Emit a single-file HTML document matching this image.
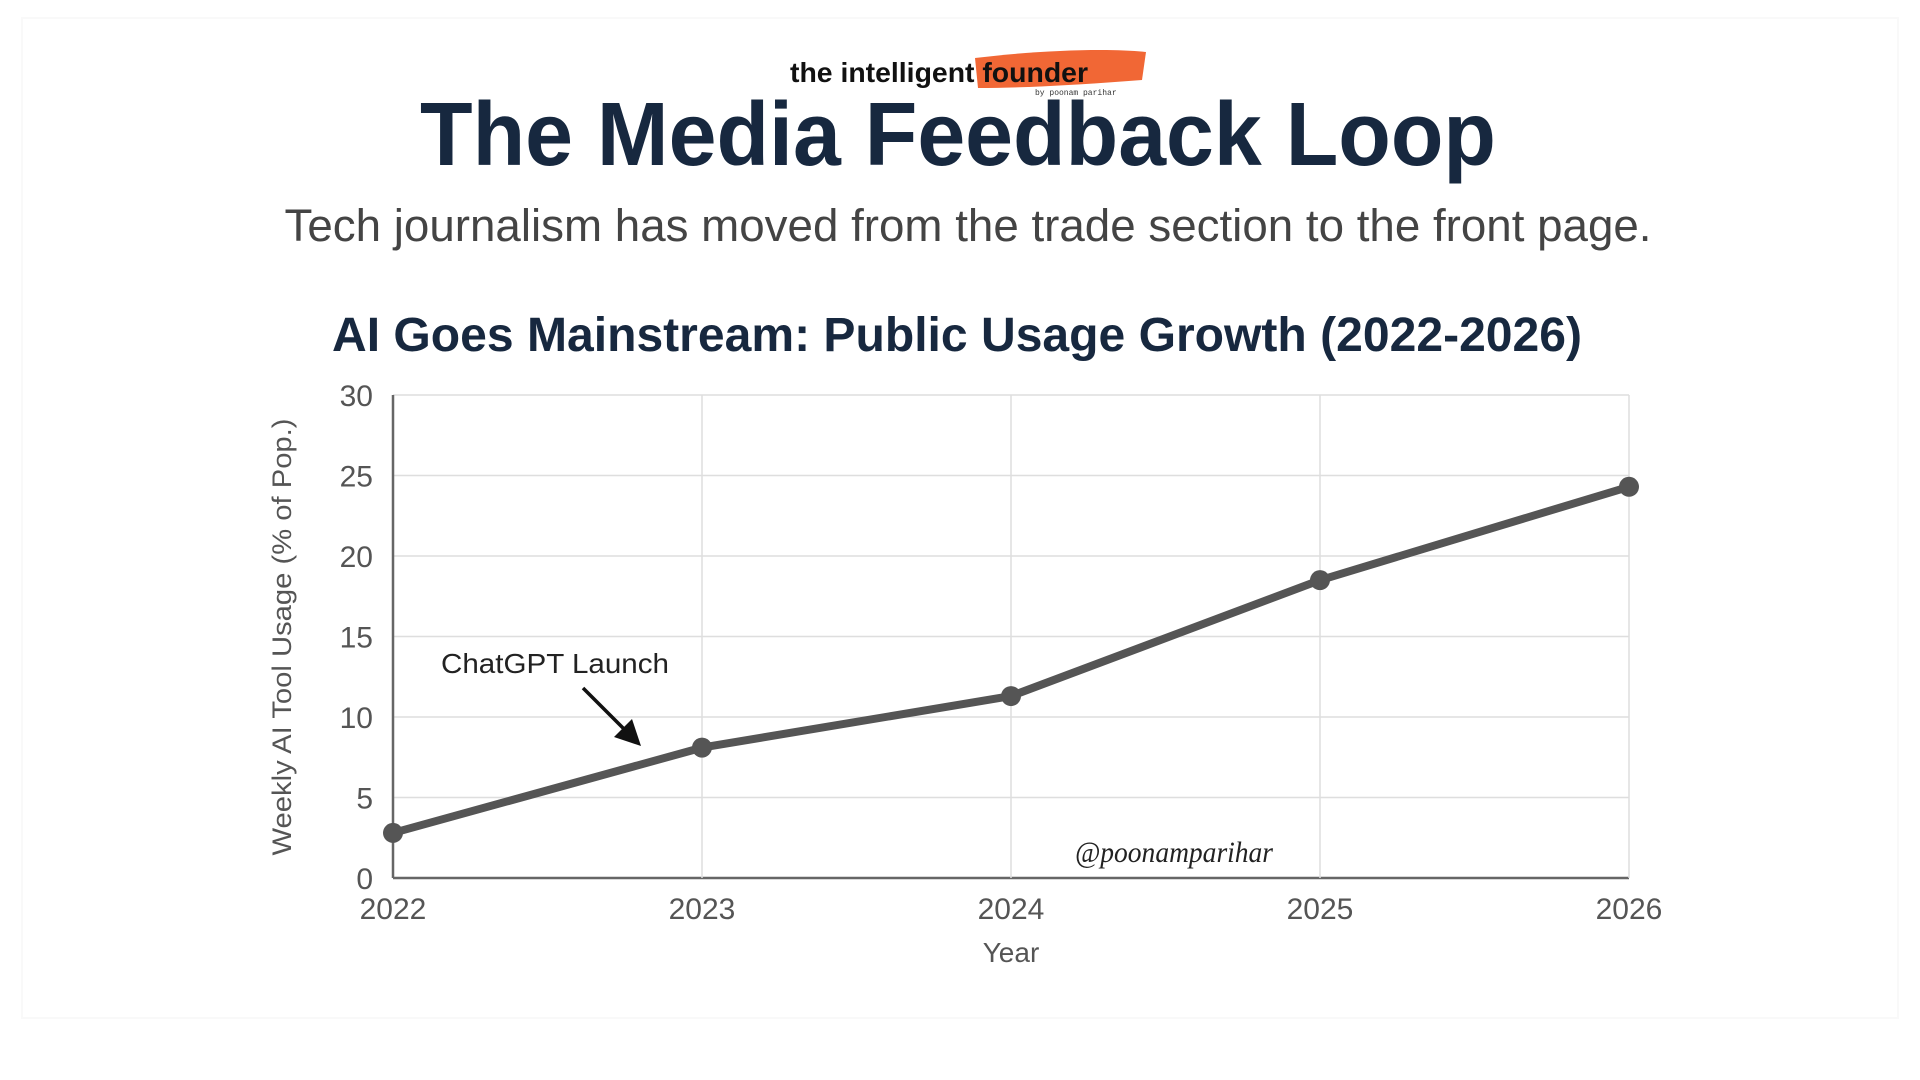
<!DOCTYPE html>
<html><head><meta charset="utf-8"><style>
html,body{margin:0;padding:0;background:#fff;}
svg{display:block;}
</style></head><body>
<svg width="1920" height="1080" viewBox="0 0 1920 1080" xmlns="http://www.w3.org/2000/svg">
<rect x="0" y="0" width="1920" height="1080" fill="#fff"/>
<rect x="22" y="18" width="1876" height="1000" fill="none" stroke="#f9f9f9" stroke-width="2"/>
<g>
<path d="M975,58 C1040,50 1110,48 1146,52 L1142,80 C1090,84 1030,88 978,88 Z" fill="#f0571f" opacity="0.9"/>
<text x="790" y="82" font-family="'Liberation Sans',sans-serif" font-weight="bold" font-size="28" fill="#111" textLength="298" lengthAdjust="spacingAndGlyphs">the intelligent founder</text>
<text x="1035" y="95" font-family="'Liberation Mono',monospace" font-size="8" fill="#333">by poonam parihar</text>
</g>
<text x="958" y="165" text-anchor="middle" font-family="'Liberation Sans',sans-serif" font-weight="bold" font-size="90" fill="#17283f" textLength="1076" lengthAdjust="spacingAndGlyphs">The Media Feedback Loop</text>
<text x="968" y="241" text-anchor="middle" font-family="'Liberation Sans',sans-serif" font-size="45" fill="#444" textLength="1367" lengthAdjust="spacingAndGlyphs">Tech journalism has moved from the trade section to the front page.</text>
<text x="957" y="351" text-anchor="middle" font-family="'Liberation Sans',sans-serif" font-weight="bold" font-size="48" fill="#17283f" textLength="1250" lengthAdjust="spacingAndGlyphs">AI Goes Mainstream: Public Usage Growth (2022-2026)</text>
<g id="chart"></g>
<text x="1174" y="862" text-anchor="middle" font-family="'Liberation Serif',serif" font-style="italic" font-size="30" fill="#222" textLength="198" lengthAdjust="spacingAndGlyphs">@poonamparihar</text>
</svg>
<script>
const categories = [2022, 2023, 2024, 2025, 2026];
const usageValues = [2.8, 8.1, 11.3, 18.5, 24.3];
const yTicks = [0, 5, 10, 15, 20, 25, 30];
const xTickLabels = ["2022", "2023", "2024", "2025", "2026"];

const NS = "http://www.w3.org/2000/svg";
const g = document.getElementById("chart");
const L = 393, R = 1629, T = 395, B = 878;
const xScale = i => L + (R - L) * i / (categories.length - 1);
const yScale = v => B - (B - T) * v / 30;
function mk(tag, attrs, parent) {
  const e = document.createElementNS(NS, tag);
  for (const k in attrs) e.setAttribute(k, attrs[k]);
  (parent || g).appendChild(e);
  return e;
}
yTicks.forEach(t => {
  const y = yScale(t);
  const ln = mk("line", {x1: L, x2: R, y1: y, y2: y, stroke: t === 0 ? "#666" : "#dedede", "stroke-width": t === 0 ? 2.5 : 1.5});
  
  
  const tx = mk("text", {x: L - 20, y: y + 11, "text-anchor": "end", "font-family": "'Liberation Sans',sans-serif", "font-size": 30, fill: "#555"});
  tx.textContent = t;
  
  
});
categories.forEach((c, i) => {
  const x = xScale(i);
  const ln = mk("line", {x1: x, x2: x, y1: T, y2: B, stroke: i === 0 ? "#666" : "#dedede", "stroke-width": i === 0 ? 2.5 : 1.5});
  
  
  const tx = mk("text", {x: x, y: 919, "text-anchor": "middle", "font-family": "'Liberation Sans',sans-serif", "font-size": 30, fill: "#555"});
  tx.textContent = xTickLabels[i];
  
  
});
const xt = mk("text", {x: (L + R) / 2, y: 962, "text-anchor": "middle", "font-family": "'Liberation Sans',sans-serif", "font-size": 28, fill: "#555"});
xt.textContent = "Year";


const yt = mk("text", {x: 0, y: 0, "text-anchor": "middle", "font-family": "'Liberation Sans',sans-serif", "font-size": 27, fill: "#555", transform: "translate(291,637) rotate(-90)", textLength: 437, lengthAdjust: "spacingAndGlyphs"});
yt.textContent = "Weekly AI Tool Usage (% of Pop.)";


const pts = usageValues.map((v, i) => xScale(i) + "," + yScale(v)).join(" ");
const pl = mk("polyline", {points: pts, fill: "none", stroke: "#555", "stroke-width": 8, "stroke-linejoin": "round"});


usageValues.forEach((v, i) => {
  const c = mk("circle", {cx: xScale(i), cy: yScale(v), r: 10, fill: "#555"});
  
  
});
const an = mk("text", {x: 441, y: 673, "font-family": "'Liberation Sans',sans-serif", "font-size": 28, fill: "#222", textLength: 228, lengthAdjust: "spacingAndGlyphs"});
an.textContent = "ChatGPT Launch";


const ar = mk("line", {x1: 583, y1: 688, x2: 630, y2: 735, stroke: "#111", "stroke-width": 3.5});


const ah = mk("polygon", {points: "641,746 614,737 632,719", fill: "#111"});


</script>
</body></html>
